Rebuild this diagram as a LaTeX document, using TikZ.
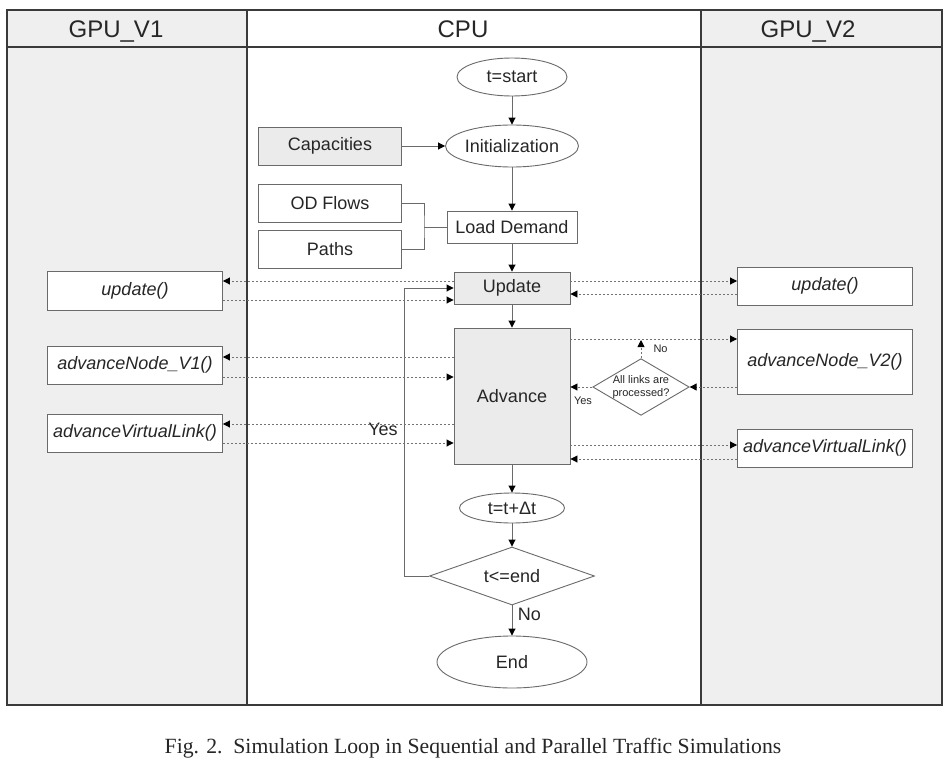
\documentclass[tikz,border=0pt]{standalone}
\usepackage{fontspec}
\setmainfont{Liberation Sans}
\newfontfamily\capfont{Liberation Serif}
\usetikzlibrary{arrows.meta,positioning,shapes.geometric}

\definecolor{lanegray}{HTML}{EFEFEF}
\definecolor{boxgray}{HTML}{EBEBEB}
\definecolor{linegray}{HTML}{6A6A6A}
\definecolor{framegray}{HTML}{3A3A3A}

\begin{document}
\begin{tikzpicture}[
  x=1pt,y=-1pt,
  every node/.style={font=\fontsize{18}{21}\selectfont,text=black!85},
  head/.style={font=\fontsize{24}{28}\selectfont,anchor=base},
  proc/.style={draw=linegray,line width=.9pt,inner sep=0pt,
    minimum width=143pt,minimum height=38pt},
  term/.style={ellipse,draw=linegray,line width=.9pt,inner sep=0pt,fill=white},
  cond/.style={diamond,draw=linegray,line width=.9pt,inner sep=0pt,fill=white},
  gfun/.style={draw=linegray,line width=.9pt,fill=white,inner sep=0pt,
    minimum width=175pt,minimum height=38pt,font=\fontsize{18}{21}\selectfont\itshape},
  flow/.style={-{Triangle[length=7pt,width=7pt,color=black]},line width=.9pt,linegray},
  call/.style={-{Triangle[length=7pt,width=7pt,color=black]},line width=.9pt,
    black!55,dash pattern=on 2pt off 2pt},
  small/.style={font=\fontsize{11}{13}\selectfont}]
  \useasboundingbox[fill=white] (0,0) rectangle (948,763);

  % Lanes and header row.
  \fill[lanegray] (7,10) rectangle (247,705);
  \fill[lanegray] (701,10) rectangle (942,705);
  \draw[framegray,line width=1.2pt] (7,10) rectangle (942,705);
  \draw[framegray,line width=1.2pt] (7,47) -- (942,47);
  \draw[framegray,line width=1.2pt] (247,10) -- (247,705);
  \draw[framegray,line width=1.2pt] (701,10) -- (701,705);
  \node[head] (hV1) at (116,37) {GPU\_V1};
  \node[head] (hCPU) at (463,37) {CPU};
  \node[head] (hV2) at (808,37) {GPU\_V2};

  % CPU main loop.
  \node[term,minimum width=110pt,minimum height=38pt] (tstart) at (512,77) {t=start};
  \node[proc,fill=boxgray] (cap) at (330,146) {Capacities};
  \node[term,minimum width=112pt,minimum height=42pt] (init) at (512,146) {Initialization};
  \node[proc,fill=white] (odf) at (330,203) {OD Flows};
  \node[proc,fill=white] (paths) at (330,249) {Paths};
  \node[proc,fill=white,minimum width=130pt,minimum height=32pt] (load) at (512,227)
    {Load Demand};
  \node[proc,fill=boxgray,minimum width=116pt,minimum height=32pt] (upd) at (512,288)
    {Update};
  \node[proc,fill=boxgray,minimum width=116pt,minimum height=136pt] (adv) at (512,396)
    {Advance};
  \node[term,minimum width=105pt,minimum height=30pt] (tinc) at (512,508) {t=t+Δt};
  \node[cond,aspect=2.8,minimum width=165pt,minimum height=58pt] (tend) at (512,576)
    {t<=end};
  \node[term,minimum width=150pt,minimum height=52pt] (endn) at (512,662) {End};
  \node[cond,small,align=center,aspect=1.7,minimum width=92pt,minimum height=54pt]
    (chk) at (641,387) {All links are\\processed?};

  \draw[flow] (tstart) -- (init);
  \draw[flow] (cap) -- (init);
  \draw[flow] (init) -- (load);
  \coordinate (jn) at (424,227);
  \draw[line width=.9pt,linegray] (odf.east) -| (jn) |- (paths.east);
  \draw[line width=.9pt,linegray] (jn) -- (load.west);
  \draw[flow] (load) -- (upd);
  \draw[flow] (upd) -- (adv);
  \draw[flow] (adv) -- (tinc);
  \draw[flow] (tinc) -- (tend);
  \draw[flow] (tend) -- node[right=2pt,pos=.3] (noE) {No} (endn);
  \draw[flow] (tend.west) -- ++(-25,0) |- (upd.west);
  \node (yesL) at (383,429) {Yes};

  % GPU_V1 kernels.
  \node[gfun,minimum height=39pt] (uL) at (135,291) {update()};
  \node[gfun] (nL) at (135,365) {advanceNode\_V1()};
  \node[gfun] (vL) at (135,433) {advanceVirtualLink()};
  \draw[call] (upd.west |- 0,281) -- (uL.east |- 0,281);
  \draw[call] (uL.east |- 0,300) -- (upd.west |- 0,300);
  \draw[call] (adv.west |- 0,357) -- (nL.east |- 0,357);
  \draw[call] (nL.east |- 0,377) -- (adv.west |- 0,377);
  \draw[call] (adv.west |- 0,424) -- (vL.east |- 0,424);
  \draw[call] (vL.east |- 0,443) -- (adv.west |- 0,443);

  % GPU_V2 kernels.
  \node[gfun] (uR) at (825,286) {update()};
  \node[gfun,minimum height=65pt] (nR) at (825,362) {advanceNode\_V2()};
  \node[gfun] (vR) at (825,448) {advanceVirtualLink()};
  \draw[call] (upd.east |- 0,281) -- (uR.west |- 0,281);
  \draw[call] (uR.west |- 0,294) -- (upd.east |- 0,294);
  \draw[call] (adv.east |- 0,339) -- (nR.west |- 0,339);
  \draw[call] (nR.west |- 0,387) -- (chk.east);
  \draw[call] (chk.west) -- (adv.east |- chk.west);
  \draw[call] (chk.north) -- (chk.north |- 0,340);
  \draw[call] (adv.east |- 0,445) -- (vR.west |- 0,445);
  \draw[call] (vR.west |- 0,459) -- (adv.east |- 0,459);
  \node[small,anchor=west] (noC) at (650,349) {No};
  \node[small] (yesC) at (583,401) {Yes};

  % Caption.
  \node[font=\capfont\fontsize{21.7}{25}\selectfont] (cap2) at (473,748)
    {Fig. 2.\ \ Simulation Loop in Sequential and Parallel Traffic Simulations};
\end{tikzpicture}
\end{document}
